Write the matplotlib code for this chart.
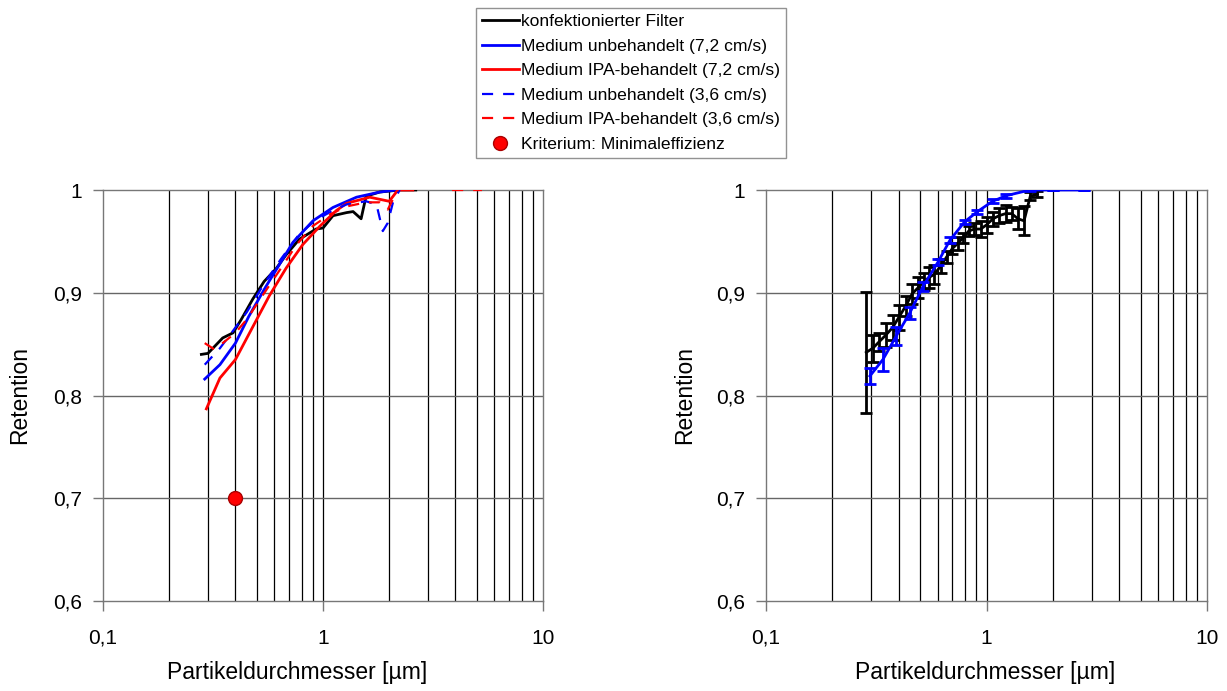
import numpy as np
import matplotlib
matplotlib.use("Agg")
import matplotlib.pyplot as plt
from matplotlib.ticker import FixedLocator, FuncFormatter, NullLocator

plt.rcParams['font.family'] = ['Liberation Sans', 'DejaVu Sans']

# ---------------- data: left panel ----------------
konf_x = [0.28, 0.30, 0.35, 0.39, 0.425, 0.48, 0.54, 0.61, 0.68, 0.78, 0.93, 1.0, 1.11, 1.28, 1.37, 1.49, 1.57, 1.81, 2.23, 2.64]
konf_y = [0.840, 0.841, 0.856, 0.861, 0.874, 0.894, 0.911, 0.923, 0.937, 0.952, 0.962, 0.963, 0.975, 0.978, 0.979, 0.972, 0.994, 0.998, 1.0, 1.0]

unb72_x = [0.29, 0.34, 0.40, 0.46, 0.55, 0.64, 0.73, 0.90, 1.11, 1.42, 1.81, 2.15]
unb72_y = [0.816, 0.830, 0.851, 0.877, 0.906, 0.929, 0.949, 0.970, 0.983, 0.993, 0.998, 1.0]

ipa72_x = [0.295, 0.34, 0.40, 0.48, 0.57, 0.68, 0.81, 0.97, 1.15, 1.28, 1.63, 2.0, 2.19, 2.56]
ipa72_y = [0.787, 0.817, 0.835, 0.867, 0.897, 0.924, 0.947, 0.965, 0.980, 0.987, 0.993, 0.989, 1.0, 1.0]

unb36_x = [0.29, 0.34, 0.39, 0.45, 0.53, 0.64, 0.78, 0.93, 1.11, 1.28, 1.57, 1.75, 1.87, 1.97, 2.08, 2.23]
unb36_y = [0.830, 0.846, 0.863, 0.881, 0.906, 0.932, 0.957, 0.971, 0.980, 0.986, 0.989, 0.986, 0.960, 0.968, 0.988, 1.0]

ipa36_x = [0.29, 0.32, 0.35, 0.40, 0.45, 0.53, 0.64, 0.76, 0.90, 1.07, 1.28, 1.57, 1.81, 1.97, 2.08, 2.19, 3.0, 3.86, 5.28]
ipa36_y = [0.851, 0.845, 0.851, 0.861, 0.874, 0.897, 0.923, 0.947, 0.965, 0.976, 0.984, 0.988, 0.988, 0.981, 0.991, 1.0, np.nan, 1.0, 1.0]

crit_x = [0.4]
crit_y = [0.7]

# ---------------- data: right panel ----------------
konfE_x = [0.285, 0.305, 0.325, 0.35, 0.375, 0.40, 0.43, 0.46, 0.49, 0.52, 0.55, 0.58, 0.62, 0.66, 0.70,
           0.74, 0.78, 0.83, 0.88, 0.94, 1.0, 1.07, 1.14, 1.22, 1.30, 1.39, 1.48, 1.58, 1.70]
konfE_y = [0.842, 0.846, 0.852, 0.859, 0.866, 0.876, 0.887, 0.899, 0.905, 0.911, 0.915, 0.918, 0.926, 0.935, 0.943,
           0.948, 0.953, 0.960, 0.962, 0.962, 0.966, 0.972, 0.975, 0.977, 0.977, 0.972, 0.970, 0.994, 0.996]
konfE_err = [0.059, 0.013, 0.009, 0.012, 0.012, 0.012, 0.010, 0.010, 0.010, 0.008, 0.010, 0.009, 0.007, 0.006, 0.005,
             0.006, 0.005, 0.005, 0.006, 0.008, 0.008, 0.007, 0.007, 0.008, 0.006, 0.010, 0.014, 0.004, 0.003]

unbE_x = [0.296, 0.339, 0.39, 0.448, 0.515, 0.603, 0.682, 0.795, 0.91, 1.065, 1.23, 1.57, 2.0, 2.78]
unbE_y = [0.819, 0.835, 0.858, 0.880, 0.906, 0.930, 0.951, 0.969, 0.979, 0.989, 0.9945, 1.0, 1.0, 1.0]
unbE_err = [0.008, 0.011, 0.009, 0.006, 0.004, 0.003, 0.003, 0.002, 0.002, 0.002, 0.002, 0.001, 0.0, 0.0]

xticks = [0.1, 1, 10]
yticks = [0.6, 0.7, 0.8, 0.9, 1.0]
xlabel = "Partikeldurchmesser [µm]"
ylabel = "Retention"

fig = plt.figure(figsize=(12.27, 6.91), dpi=100)
W, H = 1227, 691
axL = fig.add_axes([103 / W, 1 - 601 / H, 440 / W, 411 / H])
axR = fig.add_axes([766 / W, 1 - 601 / H, 441 / W, 411 / H])

def fmt(v, pos):
    return ("%g" % v).replace('.', ',')

for ax in (axL, axR):
    ax.set_xscale('log')
    ax.set_xlim(0.1, 10)
    ax.set_ylim(0.6, 1.0)
    ax.xaxis.set_major_locator(FixedLocator(xticks))
    ax.xaxis.set_minor_locator(NullLocator())
    ax.yaxis.set_major_locator(FixedLocator(yticks))
    ax.xaxis.set_major_formatter(FuncFormatter(fmt))
    ax.yaxis.set_major_formatter(FuncFormatter(fmt))
    for dec in (0.1, 1.0):
        for m in range(1, 10):
            xv = dec * m
            if 0.1 < xv < 10:
                ax.axvline(xv, color='black', lw=0.9, zorder=0.5)
    for yv in yticks[1:-1]:
        ax.axhline(yv, color='#666666', lw=1.0, zorder=0.5)
    for sp in ax.spines.values():
        sp.set_color('#777777')
        sp.set_linewidth(1.0)
    ax.tick_params(axis='both', direction='out', length=7, width=1, color='#777777',
                   labelsize=15, colors='#777777', labelcolor='black')
    ax.tick_params(axis='x', pad=13)
    ax.tick_params(axis='y', pad=8)
    ax.set_xlabel(xlabel, fontsize=16.5)
    ax.set_ylabel(ylabel, fontsize=16.5)
    ax.patch.set_facecolor('white')

axL.xaxis.set_label_coords(0.441, -0.146)
axL.yaxis.set_label_coords(-0.163, 0.5)
axR.xaxis.set_label_coords(0.497, -0.146)
axR.yaxis.set_label_coords(-0.158, 0.5)

l1, = axL.plot(konf_x, konf_y, color='black', lw=2, label='konfektionierter Filter', zorder=3)
l2, = axL.plot(unb72_x, unb72_y, color='#0000FF', lw=2, label='Medium unbehandelt (7,2 cm/s)', zorder=3)
l3, = axL.plot(ipa72_x, ipa72_y, color='#FF0000', lw=2, label='Medium IPA-behandelt (7,2 cm/s)', zorder=3)
l4, = axL.plot(unb36_x, unb36_y, color='#0000FF', lw=1.6, dashes=(5, 4.5), label='Medium unbehandelt (3,6 cm/s)', zorder=3)
l5, = axL.plot(ipa36_x, ipa36_y, color='#FF0000', lw=1.6, dashes=(5, 4.5), label='Medium IPA-behandelt (3,6 cm/s)', zorder=3)
l6, = axL.plot(crit_x, crit_y, linestyle='none', marker='o', markersize=10, markerfacecolor='#FF0000',
               markeredgecolor='#AA0000', markeredgewidth=1, label='Kriterium: Minimaleffizienz', zorder=4, clip_on=False)

axR.errorbar(konfE_x, konfE_y, yerr=konfE_err, color='black', lw=2, elinewidth=2, capsize=4, capthick=2, zorder=3)
axR.errorbar(unbE_x, unbE_y, yerr=unbE_err, color='#0000FF', lw=2, elinewidth=2, capsize=4, capthick=2, zorder=4)

leg = fig.legend(handles=[l1, l2, l3, l4, l5, l6], loc='upper center',
                 bbox_to_anchor=(631 / W, 1 - 8 / H), fontsize=12.6, frameon=True, fancybox=False,
                 edgecolor='#777777', handlelength=2.1, handletextpad=0.15, labelspacing=0.53,
                 borderpad=0.35, borderaxespad=0)
leg.get_frame().set_linewidth(1.0)

fig.savefig('out.png', dpi=100, facecolor='white')
